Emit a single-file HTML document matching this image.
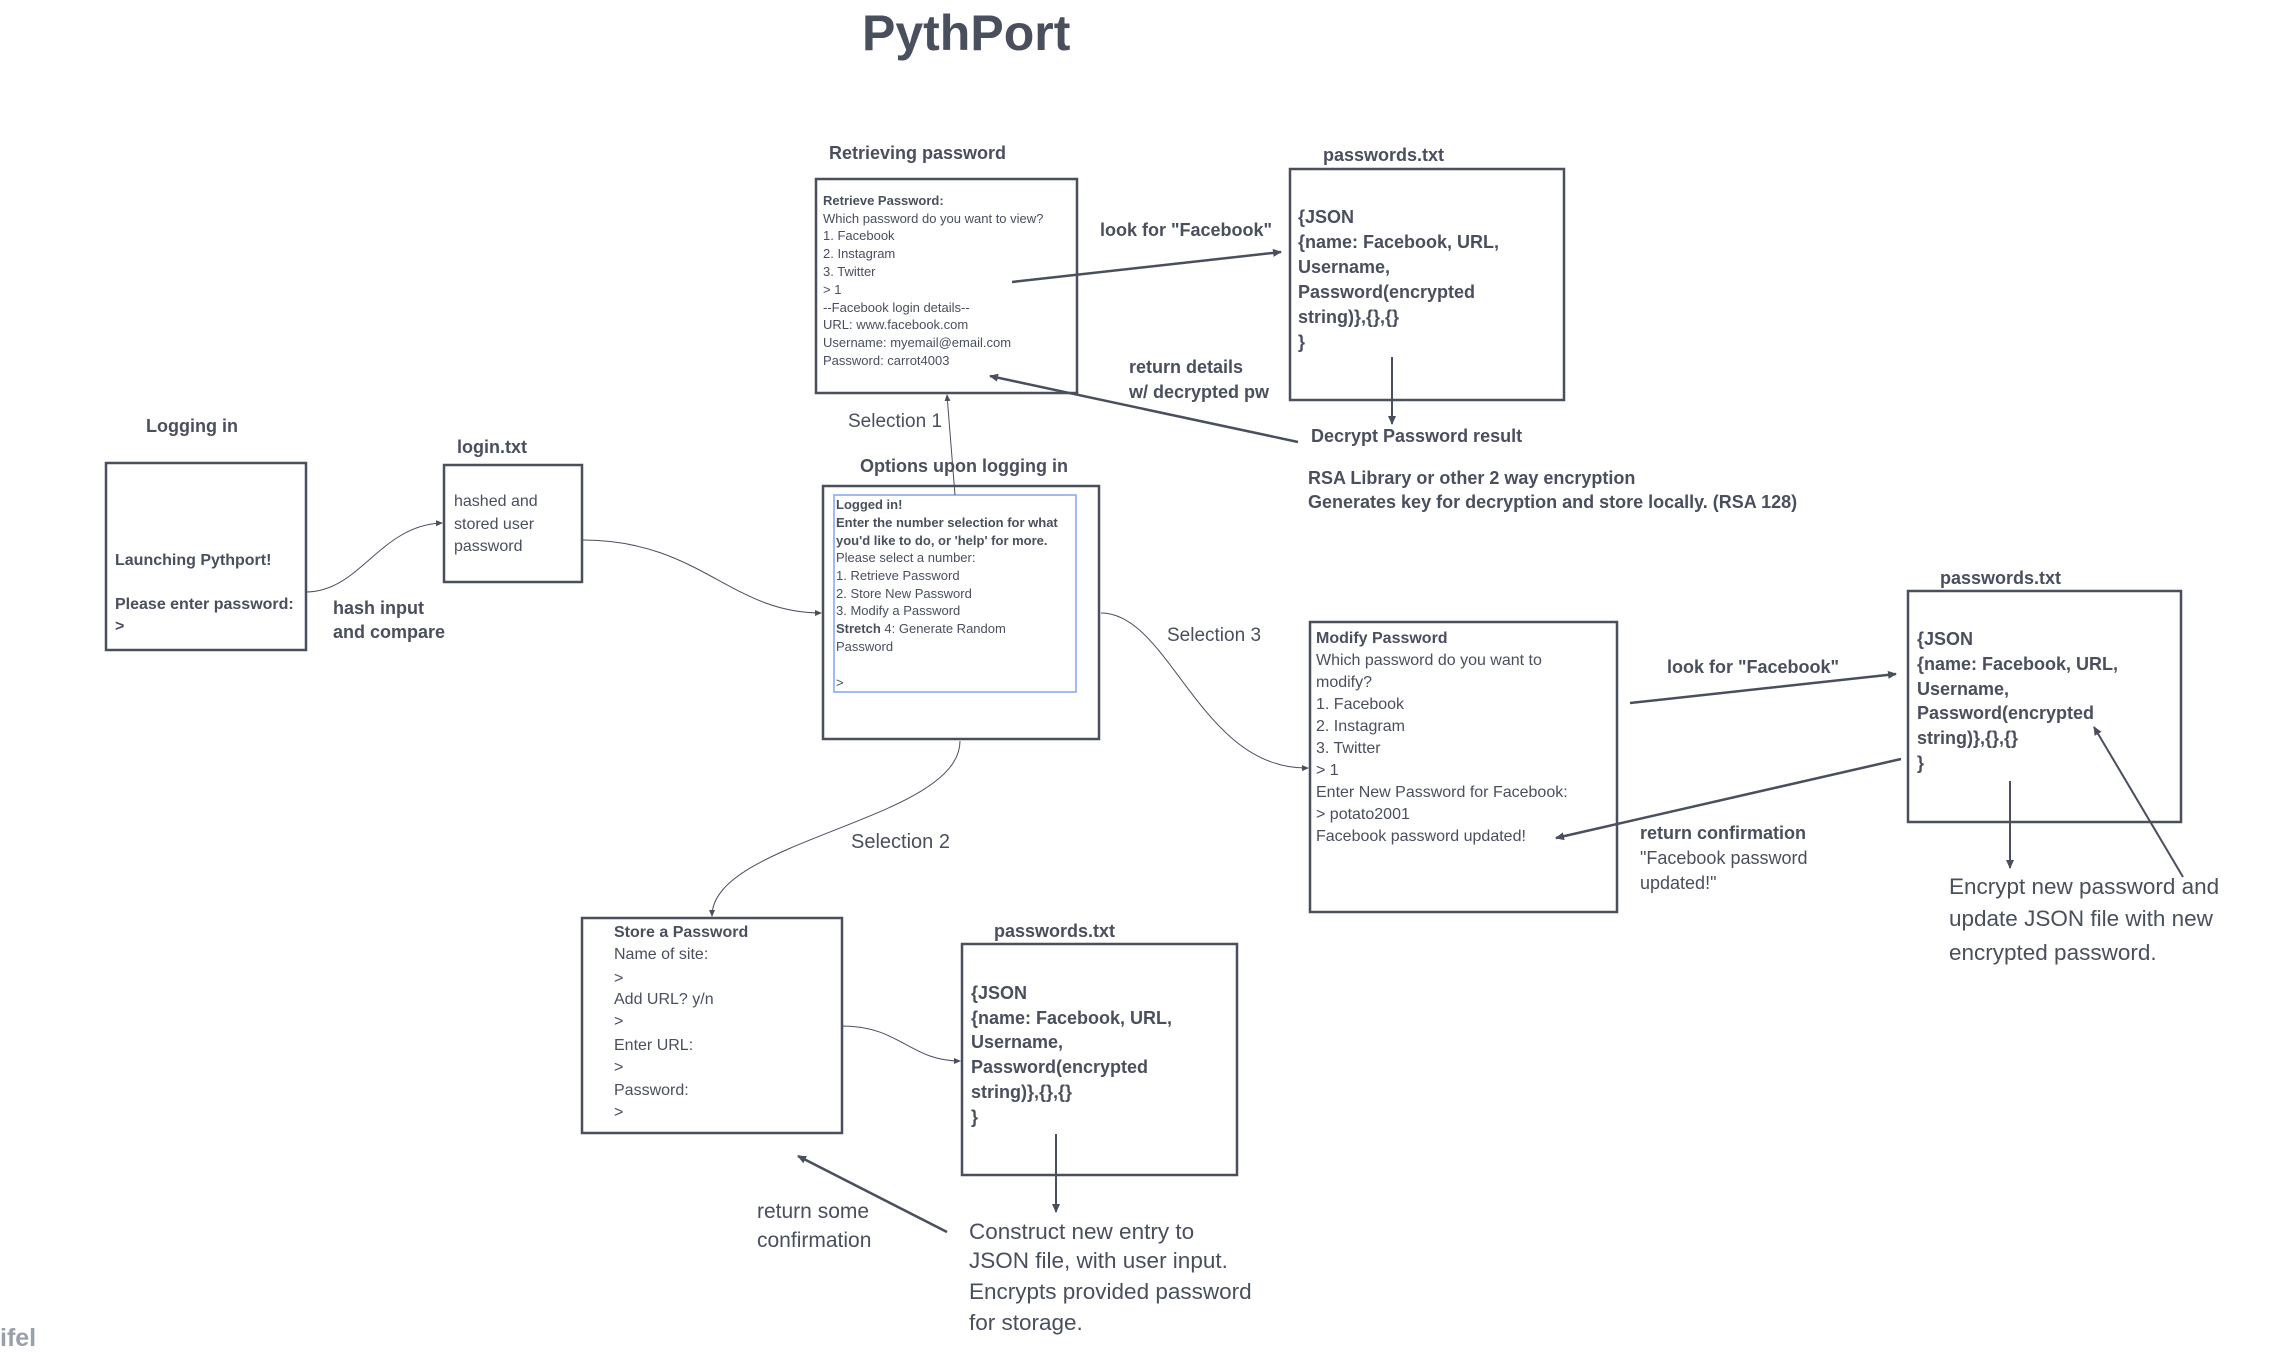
<!DOCTYPE html>
<html><head><meta charset="utf-8"><style>
html,body{margin:0;padding:0;background:#fff;}
svg{display:block;}
text{font-family:"Liberation Sans",sans-serif;fill:#4a4f5e;}
.b{font-weight:bold;}
</style></head><body>
<svg width="2292" height="1352" viewBox="0 0 2292 1352" xmlns="http://www.w3.org/2000/svg">
<defs>
<marker id="a" markerWidth="10" markerHeight="10" refX="8" refY="5" orient="auto" markerUnits="userSpaceOnUse"><path d="M0,1 L9,5 L0,9 Z" fill="#4a4f5e"/></marker>
<marker id="s" markerWidth="8" markerHeight="8" refX="6" refY="4" orient="auto" markerUnits="userSpaceOnUse"><path d="M0,1 L7,4 L0,7 Z" fill="#4a4f5e"/></marker>
</defs>
<g fill="none" stroke="#4a4f5e">
<rect x="816" y="179" width="261" height="214" stroke-width="2.5"/>
<rect x="1290" y="169" width="274" height="231" stroke-width="2.5"/>
<rect x="106" y="463" width="200" height="187" stroke-width="2.5"/>
<rect x="444" y="465" width="138" height="117" stroke-width="2.5"/>
<rect x="823" y="486" width="276" height="253" stroke-width="2.5"/>
<rect x="834" y="495" width="242" height="197" stroke="#7ea6f0" stroke-width="1.5"/>
<rect x="1310" y="622" width="307" height="290" stroke-width="2.5"/>
<rect x="1908" y="591" width="273" height="231" stroke-width="2.5"/>
<rect x="582" y="918" width="260" height="215" stroke-width="2.5"/>
<rect x="962" y="944" width="275" height="231" stroke-width="2.5"/>
<path d="M306,592 C360,592 380,525 442,523" stroke-width="1" marker-end="url(#s)"/>
<path d="M582,540 C700,540 730,613 821,613" stroke-width="1" marker-end="url(#s)"/>
<path d="M955,495 L947,395" stroke-width="1" marker-end="url(#s)"/>
<path d="M1101,613 C1170,613 1200,770 1308,768" stroke-width="1" marker-end="url(#s)"/>
<path d="M960,741 C960,820 712,840 712,916" stroke-width="1" marker-end="url(#s)"/>
<path d="M842,1026 C900,1026 910,1061 960,1061" stroke-width="1" marker-end="url(#s)"/>
<path d="M1012,282 L1281,252" stroke-width="2.5" marker-end="url(#a)"/>
<path d="M1298,442 L990,376" stroke-width="2.5" marker-end="url(#a)"/>
<path d="M1392,357 L1392,424" stroke-width="2" marker-end="url(#a)"/>
<path d="M1630,703 L1896,674" stroke-width="2.5" marker-end="url(#a)"/>
<path d="M1901,759 L1556,838" stroke-width="2.5" marker-end="url(#a)"/>
<path d="M2010,781 L2010,868" stroke-width="2" marker-end="url(#a)"/>
<path d="M2183,877 L2094,727" stroke-width="2" marker-end="url(#a)"/>
<path d="M1056,1134 L1056,1212" stroke-width="2" marker-end="url(#a)"/>
<path d="M947,1232 L798,1156" stroke-width="2.5" marker-end="url(#a)"/>
</g>

<text x="862" y="50" class="b" font-size="50">PythPort</text>

<text x="829" y="159" class="b" font-size="18">Retrieving password</text>
<g font-size="13">
<text x="823" y="205" class="b">Retrieve Password:</text>
<text x="823" y="223">Which password do you want to view?</text>
<text x="823" y="240">1. Facebook</text>
<text x="823" y="258">2. Instagram</text>
<text x="823" y="276">3. Twitter</text>
<text x="823" y="294">&gt; 1</text>
<text x="823" y="312">--Facebook login details--</text>
<text x="823" y="329">URL: www.facebook.com</text>
<text x="823" y="347">Username: myemail@email.com</text>
<text x="823" y="365">Password: carrot4003</text>
</g>

<text x="1323" y="161" class="b" font-size="18">passwords.txt</text>
<g font-size="18" class="b">
<text x="1298" y="223">{JSON</text>
<text x="1298" y="248">{name: Facebook, URL,</text>
<text x="1298" y="273">Username,</text>
<text x="1298" y="298">Password(encrypted</text>
<text x="1298" y="323">string)},{},{}</text>
<text x="1298" y="348">}</text>
</g>
<text x="1100" y="236" class="b" font-size="18">look for "Facebook"</text>
<text x="1129" y="373" class="b" font-size="18">return details</text>
<text x="1129" y="398" class="b" font-size="18">w/ decrypted pw</text>
<text x="1311" y="442" class="b" font-size="18">Decrypt Password result</text>
<text x="1308" y="484" class="b" font-size="18">RSA Library or other 2 way encryption</text>
<text x="1308" y="508" class="b" font-size="18">Generates key for decryption and store locally. (RSA 128)</text>

<text x="146" y="432" class="b" font-size="18">Logging in</text>
<g font-size="16" class="b">
<text x="115" y="565">Launching Pythport!</text>
<text x="115" y="609">Please enter password:</text>
<text x="115" y="631">&gt;</text>
</g>
<text x="457" y="453" class="b" font-size="18">login.txt</text>
<g font-size="16">
<text x="454" y="506">hashed  and</text>
<text x="454" y="529">stored user</text>
<text x="454" y="551">password</text>
</g>
<text x="333" y="614" class="b" font-size="18">hash input</text>
<text x="333" y="638" class="b" font-size="18">and compare</text>

<text x="848" y="427" font-size="19">Selection 1</text>
<text x="860" y="472" class="b" font-size="18">Options upon logging in</text>
<g font-size="13">
<text x="836" y="509" class="b">Logged in!</text>
<text x="836" y="527" class="b">Enter the number selection for what</text>
<text x="836" y="545" class="b">you'd like to do, or 'help' for more.</text>
<text x="836" y="562">Please select a number:</text>
<text x="836" y="580">1. Retrieve Password</text>
<text x="836" y="598">2. Store New Password</text>
<text x="836" y="615">3. Modify a Password</text>
<text x="836" y="633"><tspan class="b">Stretch</tspan> 4: Generate Random</text>
<text x="836" y="651">Password</text>
<text x="836" y="687">&gt;</text>
</g>

<text x="1167" y="641" font-size="19">Selection 3</text>
<g font-size="16">
<text x="1316" y="643" class="b">Modify Password</text>
<text x="1316" y="665">Which password do you want to</text>
<text x="1316" y="687">modify?</text>
<text x="1316" y="709">1. Facebook</text>
<text x="1316" y="731">2. Instagram</text>
<text x="1316" y="753">3. Twitter</text>
<text x="1316" y="775">&gt; 1</text>
<text x="1316" y="797">Enter New Password for Facebook:</text>
<text x="1316" y="819">&gt; potato2001</text>
<text x="1316" y="841">Facebook password updated!</text>
</g>
<text x="1667" y="673" class="b" font-size="18">look for "Facebook"</text>
<text x="1940" y="584" class="b" font-size="18">passwords.txt</text>
<g font-size="18" class="b">
<text x="1917" y="645">{JSON</text>
<text x="1917" y="670">{name: Facebook, URL,</text>
<text x="1917" y="695">Username,</text>
<text x="1917" y="719">Password(encrypted</text>
<text x="1917" y="744">string)},{},{}</text>
<text x="1917" y="769">}</text>
</g>
<text x="1640" y="839" class="b" font-size="18">return confirmation</text>
<text x="1640" y="864" font-size="18">"Facebook password</text>
<text x="1640" y="889" font-size="18">updated!"</text>
<g font-size="22.5">
<text x="1949" y="894">Encrypt new password and</text>
<text x="1949" y="926">update JSON file with new</text>
<text x="1949" y="960">encrypted password.</text>
</g>

<text x="851" y="848" font-size="20">Selection 2</text>
<g font-size="16">
<text x="614" y="937" class="b">Store a Password</text>
<text x="614" y="959">Name of site:</text>
<text x="614" y="983">&gt;</text>
<text x="614" y="1004">Add URL? y/n</text>
<text x="614" y="1026">&gt;</text>
<text x="614" y="1050">Enter URL:</text>
<text x="614" y="1072">&gt;</text>
<text x="614" y="1095">Password:</text>
<text x="614" y="1117">&gt;</text>
</g>
<text x="994" y="937" class="b" font-size="18">passwords.txt</text>
<g font-size="18" class="b">
<text x="971" y="999">{JSON</text>
<text x="971" y="1024">{name: Facebook, URL,</text>
<text x="971" y="1048">Username,</text>
<text x="971" y="1073">Password(encrypted</text>
<text x="971" y="1098">string)},{},{}</text>
<text x="971" y="1123">}</text>
</g>
<g font-size="22.5">
<text x="969" y="1239">Construct new entry to</text>
<text x="969" y="1268">JSON file, with user input.</text>
<text x="969" y="1299">Encrypts provided password</text>
<text x="969" y="1330">for storage.</text>
</g>
<text x="757" y="1218" font-size="21">return some</text>
<text x="757" y="1247" font-size="21">confirmation</text>
<text x="0" y="1346" class="b" font-size="25" style="fill:#9aa0ab">ifel</text>
</svg>
</body></html>
